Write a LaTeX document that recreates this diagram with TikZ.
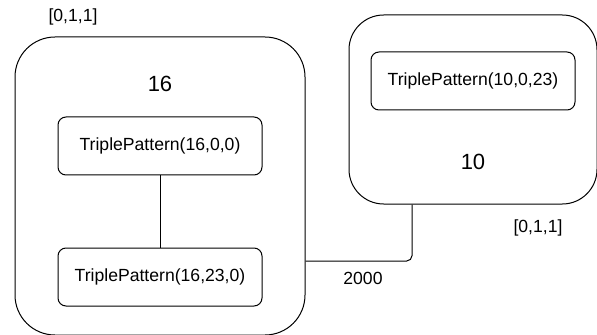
\documentclass[tikz,border=0pt]{standalone}
\usepackage{fontspec}
\setmainfont{Liberation Sans}
\usetikzlibrary{positioning}
\tikzset{every picture/.style={line width=0.75pt,x=0.75pt,y=-0.75pt},
  group/.style={draw, rounded corners=30pt, inner sep=0pt},
  tpbox/.style={draw, rounded corners=6pt, minimum width=153pt, minimum height=43.5pt, font=\fontsize{13.2}{15}\selectfont},
  small/.style={font=\fontsize{13.2}{15}\selectfont},
  big/.style={font=\fontsize{16.5}{19}\selectfont}}

\begin{document}
\begin{tikzpicture}
\useasboundingbox (0,0) rectangle (597,335);
\node (g16) [group, minimum width=217.5pt, minimum height=223.5pt] at (160,186) {};
\node (g10) [group, rounded corners=26pt, minimum width=186pt, minimum height=141.75pt] at (473,109.5) {};
\node (t1) [tpbox] at (160,146) {TriplePattern(16,0,0)};
\node (t2) [tpbox] at (160,277) {TriplePattern(16,23,0)};
\node (t3) [tpbox] at (473,81) {TriplePattern(10,0,23)};
\node (n16) [big] at (160,84) {16};
\node (n10) [big] at (473,162) {10};
\node (l16) [small] at (73,17) {[0,1,1]};
\node (l10) [small] at (538,228) {[0,1,1]};
\node (w) [small] at (363,278) {2000};
\coordinate (bend) at (412,261);
\draw (t1) -- (t2);
\draw [rounded corners=4pt] (g10.south -| bend) |- (bend -| g16.east);
\end{tikzpicture}
\end{document}
